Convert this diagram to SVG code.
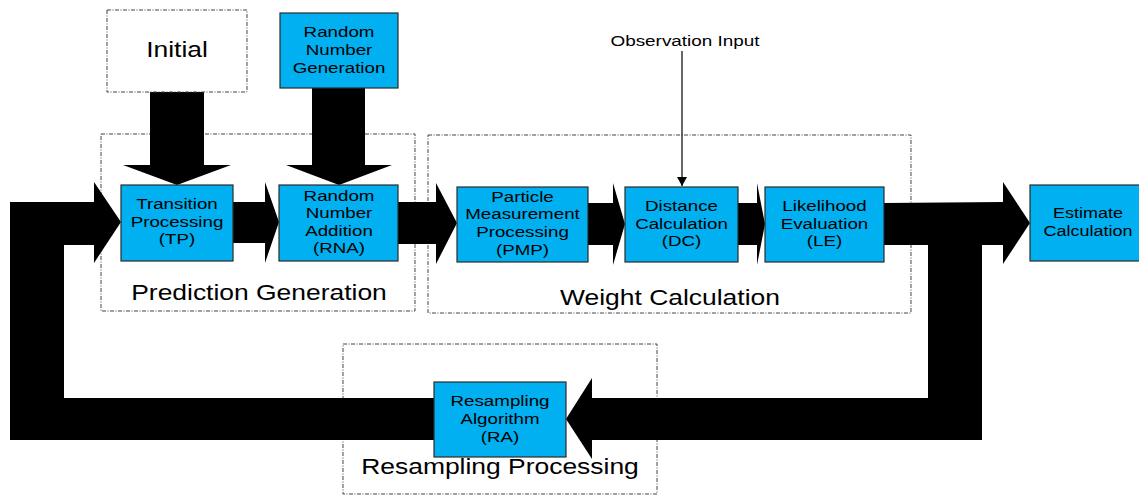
<svg xmlns="http://www.w3.org/2000/svg" width="1139" height="497" viewBox="0 0 1139 497">
  <style>
    .blk { fill: #00b0f0; stroke: #2b2b2b; stroke-width: 1.2; }
    .grp { fill: none; stroke: #444; stroke-width: 1; stroke-dasharray: 4 1.5 1 1.5; }
    .flow { fill: #000; stroke: none; }
    .t { font-family: "Liberation Sans", Arial, sans-serif; font-size: 15px; fill: #000; text-anchor: middle; }
    .big { font-family: "Liberation Sans", Arial, sans-serif; font-size: 21.5px; fill: #000; text-anchor: middle; }
  </style>
  <defs>
    <marker id="tip" viewBox="0 0 9 10" refX="9" refY="5" markerWidth="9" markerHeight="10" markerUnits="userSpaceOnUse" orient="auto">
      <path d="M0 0 L9 5 L0 10 Z" fill="#000"/>
    </marker>
  </defs>
  <rect width="1139" height="497" fill="#fff"/>

  <!-- stage frames -->
  <g id="stage-prediction">
    <rect class="grp" x="101" y="134" width="314" height="177"/>
    <text class="big" transform="translate(259 0) scale(1.23 1)" x="0" y="300">Prediction Generation</text>
  </g>
  <g id="stage-weight">
    <rect class="grp" x="428" y="135" width="483" height="178"/>
    <text class="big" transform="translate(670 0) scale(1.23 1)" x="0" y="305">Weight Calculation</text>
  </g>
  <g id="stage-resampling">
    <rect class="grp" x="343" y="344" width="314" height="150"/>
    <text class="big" transform="translate(500 0) scale(1.23 1)" x="0" y="474">Resampling Processing</text>
  </g>

  <!-- connectors -->
  <g id="connectors">
    <!-- inputs from above -->
    <polygon class="flow" points="150,92 204,92 204,165 231,165 177,185 123,165 150,165"/>
    <polygon class="flow" points="312,88 365,88 365,165 392,165 339,185 286,165 312,165"/>
    <!-- feedback into TP -->
    <polygon class="flow" points="434,398 64,398 64,245 94,245 94,263 121,222 94,182 94,202 10,202 10,440 434,440"/>
    <!-- forward chain -->
    <polygon class="flow" points="232,202 265,202 265,182 279,222 265,263 265,243 232,243"/>
    <polygon class="flow" points="398,202 436,202 436,183 457,223 436,264 436,244 398,244"/>
    <polygon class="flow" points="588,203 613,203 613,183 625,224 613,265 613,245 588,245"/>
    <polygon class="flow" points="738,203 757,203 757,183 765,224 757,265 757,245 738,245"/>
    <!-- LE to estimate, with branch down to resampling -->
    <polygon class="flow" points="884,203 1003,202 1003,182 1030,223 1003,264 1003,245 982,245 982,440 592,440 592,459 566,419 592,378 592,398 928,398 928,245 884,245"/>
    <!-- observation input -->
    <line x1="682" y1="51" x2="682" y2="186" stroke="#000" stroke-width="1.2" marker-end="url(#tip)"/>
  </g>

  <g id="observation-input">
    <text class="t" transform="translate(685 0) scale(1.26 1)" x="0" y="46.5">Observation Input</text>
  </g>

  <!-- blocks -->
  <g id="initial">
    <rect class="grp" x="107" y="10" width="140" height="82"/>
    <text class="big" transform="translate(177 0) scale(1.23 1)" x="0" y="57">Initial</text>
  </g>
  <g id="rng">
    <rect class="blk" x="280" y="13" width="118" height="75"/>
    <text class="t" transform="translate(339 0) scale(1.25 1)"><tspan x="0" y="37.5">Random</tspan><tspan x="0" y="55">Number</tspan><tspan x="0" y="72.7">Generation</tspan></text>
  </g>
  <g id="tp">
    <rect class="blk" x="121" y="185" width="112" height="76"/>
    <text class="t" transform="translate(177 0) scale(1.25 1)"><tspan x="0" y="209">Transition</tspan><tspan x="0" y="227">Processing</tspan><tspan x="0" y="244.5">(TP)</tspan></text>
  </g>
  <g id="rna">
    <rect class="blk" x="279" y="185" width="119" height="76"/>
    <text class="t" transform="translate(339 0) scale(1.25 1)"><tspan x="0" y="201">Random</tspan><tspan x="0" y="218.5">Number</tspan><tspan x="0" y="236">Addition</tspan><tspan x="0" y="253.5">(RNA)</tspan></text>
  </g>
  <g id="pmp">
    <rect class="blk" x="457" y="187" width="131" height="75"/>
    <text class="t" transform="translate(522.5 0) scale(1.25 1)"><tspan x="0" y="201.7">Particle</tspan><tspan x="0" y="219.3">Measurement</tspan><tspan x="0" y="237">Processing</tspan><tspan x="0" y="255">(PMP)</tspan></text>
  </g>
  <g id="dc">
    <rect class="blk" x="625" y="187" width="113" height="75"/>
    <text class="t" transform="translate(681.5 0) scale(1.25 1)"><tspan x="0" y="211">Distance</tspan><tspan x="0" y="228.7">Calculation</tspan><tspan x="0" y="246.5">(DC)</tspan></text>
  </g>
  <g id="le">
    <rect class="blk" x="765" y="187" width="119" height="75"/>
    <text class="t" transform="translate(824.5 0) scale(1.25 1)"><tspan x="0" y="211">Likelihood</tspan><tspan x="0" y="228.7">Evaluation</tspan><tspan x="0" y="246.5">(LE)</tspan></text>
  </g>
  <g id="estimate">
    <rect class="blk" x="1030" y="185" width="116" height="76"/>
    <text class="t" transform="translate(1088 0) scale(1.2 1)"><tspan x="0" y="218">Estimate</tspan><tspan x="0" y="236">Calculation</tspan></text>
  </g>
  <g id="ra">
    <rect class="blk" x="434" y="382" width="132" height="75"/>
    <text class="t" transform="translate(500 0) scale(1.25 1)"><tspan x="0" y="406">Resampling</tspan><tspan x="0" y="424">Algorithm</tspan><tspan x="0" y="442">(RA)</tspan></text>
  </g>
</svg>
